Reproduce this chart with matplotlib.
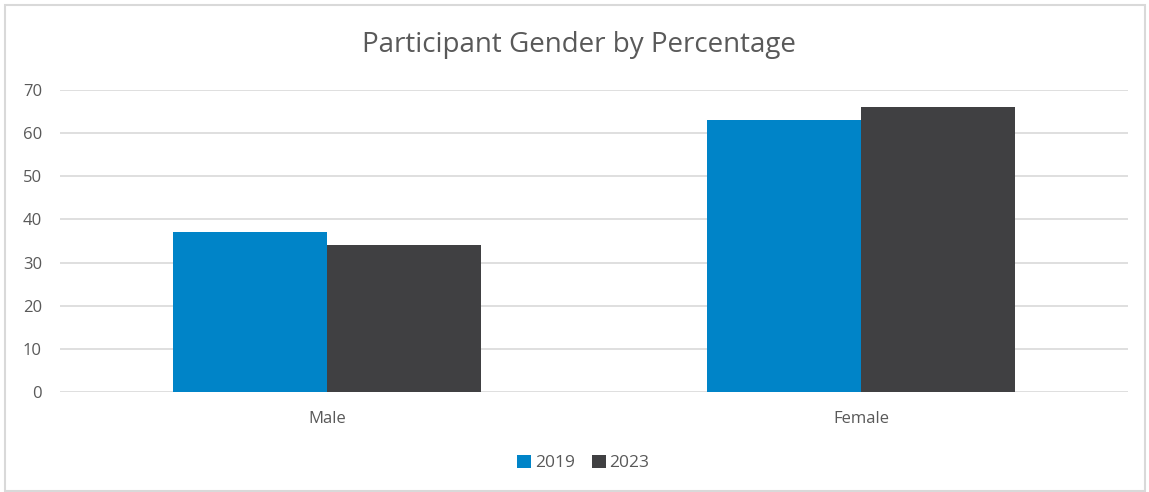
import matplotlib.pyplot as plt
import numpy as np
from matplotlib.patches import Rectangle

plt.rcParams['font.family'] = ['Open Sans', 'DejaVu Sans']

# data
categories = ['Male', 'Female']
years = ['2019', '2023']
values_2019 = [37, 63]
values_2023 = [34, 66]
colors = ['#0084C8', '#404042']

W, H = 1149, 492
fig = plt.figure(figsize=(W / 100, H / 100), dpi=100)
ax = fig.add_axes([60 / W, 1 - 392 / H, 1068 / W, 302 / H])

x = np.arange(len(categories))
bw = 0.288
ax.bar(x - bw / 2, values_2019, width=bw, color=colors[0], label=years[0], zorder=3)
ax.bar(x + bw / 2, values_2023, width=bw, color=colors[1], label=years[1], zorder=3)

ax.set_xlim(-0.5, 1.5)
ax.set_ylim(0, 70)
ax.set_yticks(range(0, 71, 10))
ax.set_xticks(x, categories)
ax.grid(axis='y', color='#D9D9D9', linewidth=1.2, zorder=0)
for s in ax.spines.values():
    s.set_visible(False)
ax.tick_params(length=0, labelsize=12, colors='#595959')
ax.tick_params(axis='y', pad=13)
ax.tick_params(axis='x', pad=14)

fig.text(579 / W, 1 - 45 / H, 'Participant Gender by Percentage', ha='center', va='center',
         fontsize=20, color='#595959')

ax.legend(loc='center', bbox_to_anchor=(0.49, 1 - (463 - 90) / 302), ncol=2, frameon=False,
          fontsize=12.5, labelcolor='#595959', handlelength=0.8, handleheight=0.8,
          handletextpad=0.2, columnspacing=1.0)

# outer chart border
fig.patches.append(Rectangle((5 / W, 0.002), 1 - 9 / W, 1 - 5 / H - 0.002,
                             transform=fig.transFigure, fill=False,
                             edgecolor='#D9D9D9', linewidth=1.5))

fig.savefig('out.png', dpi=100)
